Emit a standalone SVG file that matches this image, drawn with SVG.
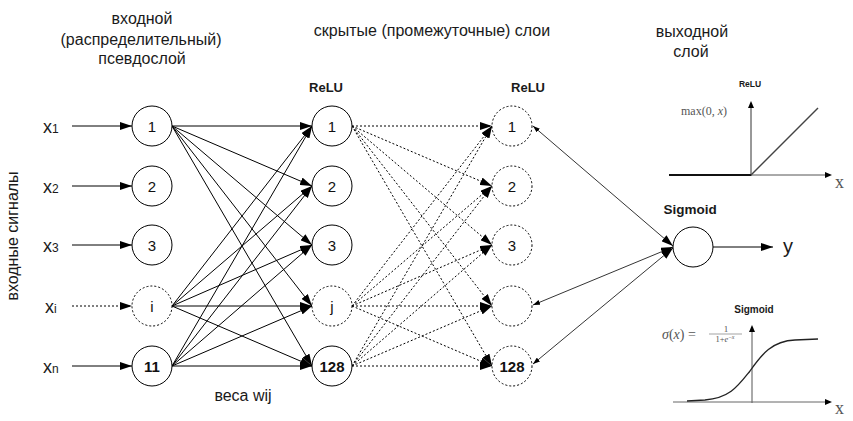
<svg xmlns="http://www.w3.org/2000/svg" width="853" height="421" viewBox="0 0 853 421">
<style>
.t{font-family:"Liberation Sans",Arial,sans-serif;fill:#1a1a1a}
.lbl{font-size:16px}
.nl{font-family:"Liberation Sans",Arial,sans-serif;font-size:15px;text-anchor:middle;fill:#111}
.b{font-weight:bold}
.c{fill:#fff;stroke:#000;stroke-width:1}
.d{stroke-dasharray:2,2}
.ln{stroke:#000;stroke-width:1;fill:none}
.mth{font-family:"Liberation Serif","DejaVu Serif",serif;fill:#555}
.ah{fill:#000;stroke:none}
</style>
<defs>
<marker id="a" viewBox="0 0 12 8" refX="12" refY="4" markerWidth="12" markerHeight="8" markerUnits="userSpaceOnUse" orient="auto"><path d="M0,0 L12,4 L0,8 z" fill="#000"/></marker>
<marker id="s" viewBox="0 0 7 5" refX="7" refY="2.5" markerWidth="7" markerHeight="5" markerUnits="userSpaceOnUse" orient="auto-start-reverse"><path d="M0,0 L7,2.5 L0,5 z" fill="#000"/></marker>
</defs>
<rect width="853" height="421" fill="#fff"/>

<g id="titles" class="t lbl" text-anchor="middle">
<text x="142" y="24">входной</text>
<text x="141" y="45">(распределительный)</text>
<text x="142" y="64">псевдослой</text>
<text x="432" y="36">скрытые (промежуточные) слои</text>
<text x="692" y="37">выходной</text>
<text x="691" y="57">слой</text>
<text x="243" y="401">веса wij</text>
<text transform="translate(18,236) rotate(-90)">входные сигналы</text>
</g>

<g id="layer-labels" class="t b" font-size="13" text-anchor="middle">
<text x="326" y="92">ReLU</text>
<text x="528" y="92">ReLU</text>
<text x="690" y="214" font-size="13.5">Sigmoid</text>
</g>

<g id="input-labels" class="t">
<text x="43" y="133" font-size="18">x<tspan font-size="12">1</tspan></text>
<text x="43" y="193" font-size="18">x<tspan font-size="12">2</tspan></text>
<text x="43" y="252" font-size="18">x<tspan font-size="12">3</tspan></text>
<text x="45" y="313" font-size="18">x<tspan font-size="12">i</tspan></text>
<text x="43" y="373" font-size="18">x<tspan font-size="12">n</tspan></text>
</g>

<g id="connectors" class="ln">
<g id="inputs" marker-end="url(#a)">
<path d="M72,126 H132"/><path d="M72,186 H132"/><path d="M72,245 H132"/><path class="d" d="M72,306 H132"/><path d="M72,366 H132"/>
</g>
<g id="w1" marker-end="url(#a)">
<path d="M172,126 L312,126"/><path d="M172,126 L312,186"/><path d="M172,126 L312,245"/><path d="M172,126 L312,306"/><path d="M172,126 L312,366"/>
<path d="M172,306 L312,126"/><path d="M172,306 L312,186"/><path d="M172,306 L312,245"/><path d="M172,306 L312,306"/><path d="M172,306 L312,366"/>
<path d="M172,366 L312,126"/><path d="M172,366 L312,186"/><path d="M172,366 L312,245"/><path d="M172,366 L312,306"/><path d="M172,366 L312,366"/>
</g>
<g id="w2" class="d" marker-end="url(#a)">
<path d="M352,126 L492,126"/><path d="M352,126 L492,186"/><path d="M352,126 L492,245"/><path d="M352,126 L492,306"/><path d="M352,126 L492,366"/>
<path d="M352,306 L492,126"/><path d="M352,306 L492,186"/><path d="M352,306 L492,245"/><path d="M352,306 L492,306"/><path d="M352,306 L492,366"/>
<path d="M352,366 L492,126"/><path d="M352,366 L492,186"/><path d="M352,366 L492,245"/><path d="M352,366 L492,306"/><path d="M352,366 L492,366"/>
</g>
<g id="w3" stroke-width="0.8" marker-start="url(#s)" marker-end="url(#a)">
<path d="M533,126 L673,246"/><path d="M533,305 L673,247"/><path d="M533,364 L673,248"/>
</g>
<path id="out" d="M713,247 H773" marker-end="url(#a)"/>
</g>

<g id="in-1"><circle class="c" cx="152" cy="126" r="20"/><text class="nl" x="152" y="132">1</text></g>
<g id="in-2"><circle class="c" cx="152" cy="186" r="20"/><text class="nl" x="152" y="192">2</text></g>
<g id="in-3"><circle class="c" cx="152" cy="245" r="20"/><text class="nl" x="152" y="251">3</text></g>
<g id="in-i"><circle class="c d" cx="152" cy="306" r="20"/><text class="nl" x="152" y="312">i</text></g>
<g id="in-11"><circle class="c" cx="152" cy="366" r="20"/><text class="nl b" x="152" y="372">11</text></g>

<g id="h1-1"><circle class="c" cx="332" cy="126" r="20"/><text class="nl" x="332" y="132">1</text></g>
<g id="h1-2"><circle class="c" cx="332" cy="186" r="20"/><text class="nl" x="332" y="192">2</text></g>
<g id="h1-3"><circle class="c" cx="332" cy="245" r="20"/><text class="nl" x="332" y="251">3</text></g>
<g id="h1-j"><circle class="c d" cx="332" cy="306" r="20"/><text class="nl" x="332" y="312">j</text></g>
<g id="h1-128"><circle class="c" cx="332" cy="366" r="20"/><text class="nl b" x="332" y="372">128</text></g>

<g id="h2-1"><circle class="c d" cx="512" cy="126" r="20"/><text class="nl" x="512" y="132">1</text></g>
<g id="h2-2"><circle class="c d" cx="512" cy="186" r="20"/><text class="nl" x="512" y="192">2</text></g>
<g id="h2-3"><circle class="c d" cx="512" cy="245" r="20"/><text class="nl" x="512" y="251">3</text></g>
<g id="h2-4"><circle class="c d" cx="512" cy="306" r="20"/></g>
<g id="h2-128"><circle class="c d" cx="512" cy="366" r="20"/><text class="nl b" x="512" y="372">128</text></g>

<g id="output"><circle class="c" cx="693" cy="247" r="20"/><text class="t" x="783" y="253" font-size="20">y</text></g>

<g id="relu-plot">
<text class="t b" x="750" y="87" font-size="8.5" text-anchor="middle">ReLU</text>
<path d="M751,176 V106" stroke="#333" stroke-width="1" fill="none"/>
<path class="ah" d="M751,101 L754,108 L748,108 z"/>
<path d="M669,175 H826" stroke="#555" stroke-width="1" fill="none"/>
<path class="ah" d="M832,175 L825,172 L825,178 z"/>
<path d="M669,175 H751" stroke="#111" stroke-width="2" fill="none"/>
<path d="M751,175 L818,108" stroke="#444" stroke-width="1.5" fill="none"/>
<text class="mth" x="681" y="115" font-size="12">max(0, <tspan font-style="italic">x</tspan>)</text>
<text class="mth" x="835" y="188" font-size="18" fill="#333">x</text>
</g>

<g id="sigmoid-plot">
<text class="t b" x="754" y="313" font-size="10" text-anchor="middle">Sigmoid</text>
<path d="M752,403 V330" stroke="#555" stroke-width="1" fill="none"/>
<path class="ah" d="M752,325 L755,332 L749,332 z"/>
<path d="M673,402 H826" stroke="#666" stroke-width="1" fill="none"/>
<path class="ah" d="M832,402 L825,399 L825,405 z"/>
<path d="M687,401 L705,400 C730,398 738,386 750,371 C762,354 772,341 795,340 L818,339" stroke="#222" stroke-width="1.3" fill="none"/>
<text class="mth" x="662" y="339" font-size="14"><tspan font-style="italic">σ</tspan>(<tspan font-style="italic">x</tspan>) =</text>
<text class="mth" x="726" y="332" font-size="9" text-anchor="middle">1</text>
<path d="M709,334 H742" stroke="#666" stroke-width="0.6"/>
<text class="mth" x="725" y="342" font-size="8.5" text-anchor="middle">1+<tspan font-style="italic">e</tspan><tspan font-size="6" dy="-3">−<tspan font-style="italic">x</tspan></tspan></text>
<text class="mth" x="835" y="414" font-size="18" fill="#333">x</text>
</g>
</svg>
